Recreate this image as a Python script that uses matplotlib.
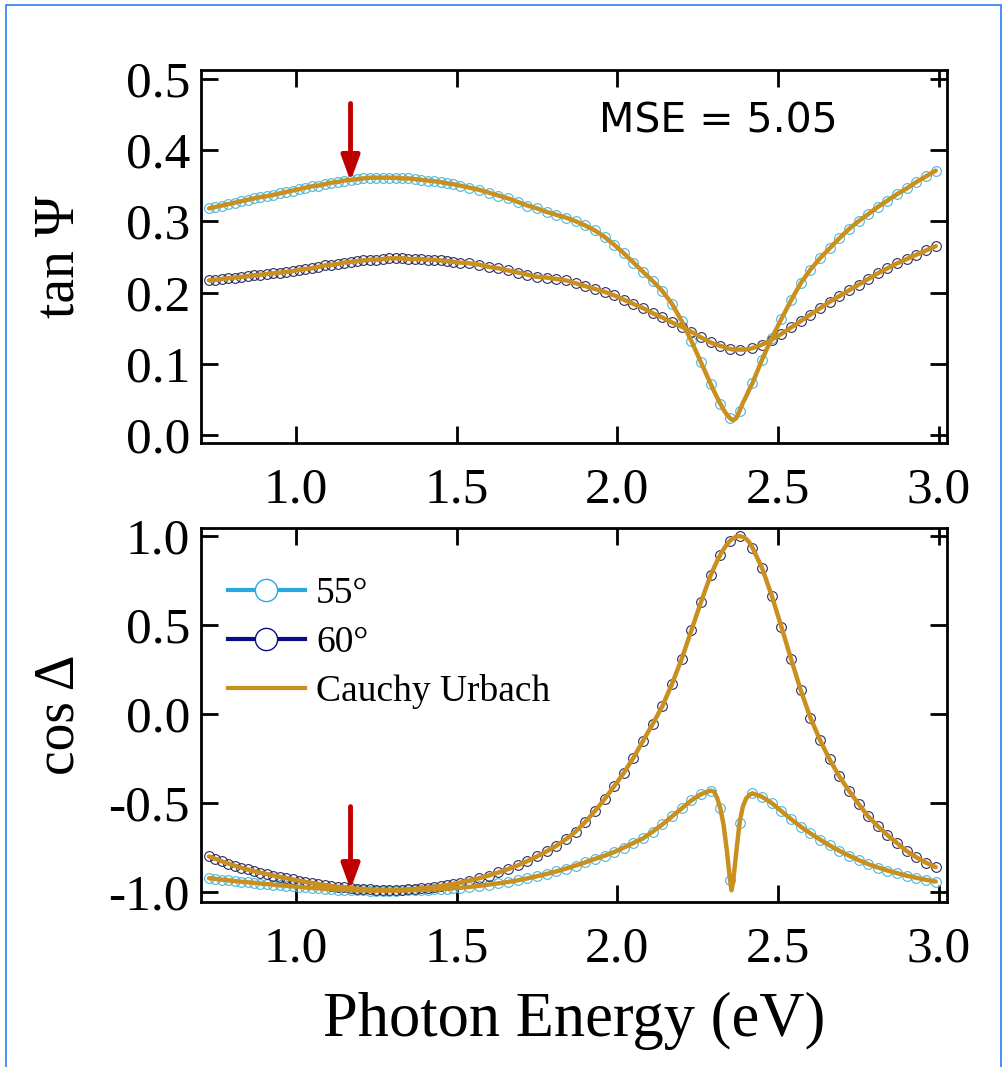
import numpy as np
import matplotlib
matplotlib.use("Agg")
import matplotlib.pyplot as plt
from matplotlib.lines import Line2D
from matplotlib.ticker import FormatStrFormatter

plt.rcParams['font.family'] = ['Liberation Serif', 'DejaVu Serif']
plt.rcParams['axes.unicode_minus'] = False

# photon energy (eV)
energy = [0.73, 0.75, 0.77, 0.79, 0.81, 0.83, 0.85, 0.87, 0.89, 0.91,
          0.93, 0.95, 0.97, 0.99, 1.01, 1.03, 1.05, 1.07, 1.09, 1.11,
          1.13, 1.15, 1.17, 1.19, 1.21, 1.23, 1.25, 1.27, 1.29, 1.31,
          1.33, 1.35, 1.37, 1.39, 1.41, 1.43, 1.45, 1.47, 1.49,
          1.51, 1.54, 1.57, 1.60, 1.63, 1.66, 1.69, 1.72, 1.75, 1.78,
          1.81, 1.84, 1.87, 1.90, 1.93, 1.96, 1.99, 2.02, 2.05, 2.08,
          2.11, 2.14, 2.17, 2.20, 2.23, 2.26, 2.29,
          2.30, 2.31, 2.32, 2.33, 2.34, 2.35, 2.355, 2.36, 2.37, 2.38,
          2.39, 2.40, 2.41,
          2.42, 2.45, 2.48, 2.51, 2.54, 2.57, 2.60, 2.63, 2.66, 2.69,
          2.72, 2.75, 2.78, 2.81, 2.84, 2.87, 2.90, 2.93, 2.96, 2.99]

tan_psi_55 = [0.318, 0.320, 0.322, 0.324, 0.326, 0.328, 0.330, 0.332, 0.334, 0.335,
              0.337, 0.339, 0.341, 0.343, 0.345, 0.347, 0.349, 0.350, 0.352, 0.354,
              0.355, 0.357, 0.358, 0.359, 0.360, 0.361, 0.361, 0.361, 0.361, 0.361,
              0.360, 0.360, 0.359, 0.358, 0.357, 0.356, 0.355, 0.353, 0.352,
              0.350, 0.347, 0.344, 0.340, 0.336, 0.332, 0.327, 0.322, 0.318, 0.313,
              0.309, 0.305, 0.300, 0.294, 0.287, 0.278, 0.267, 0.255, 0.242, 0.229,
              0.216, 0.202, 0.184, 0.160, 0.132, 0.102, 0.072,
              0.062, 0.053, 0.044, 0.036, 0.029, 0.024, 0.022, 0.021, 0.024, 0.034,
              0.045, 0.054, 0.064,
              0.073, 0.106, 0.136, 0.163, 0.189, 0.213, 0.232, 0.248, 0.262, 0.276,
              0.289, 0.300, 0.310, 0.320, 0.329, 0.338, 0.346, 0.355, 0.363, 0.371]

tan_psi_60 = [0.217, 0.218, 0.219, 0.220, 0.221, 0.222, 0.223, 0.224, 0.225, 0.226,
              0.227, 0.228, 0.229, 0.230, 0.232, 0.233, 0.234, 0.236, 0.238, 0.239,
              0.240, 0.242, 0.243, 0.244, 0.245, 0.246, 0.246, 0.247, 0.248, 0.248,
              0.248, 0.247, 0.247, 0.247, 0.246, 0.246, 0.245, 0.244, 0.243,
              0.242, 0.241, 0.239, 0.236, 0.234, 0.231, 0.228, 0.225, 0.222, 0.221,
              0.219, 0.217, 0.213, 0.209, 0.205, 0.201, 0.196, 0.190, 0.184, 0.178,
              0.171, 0.165, 0.158, 0.152, 0.145, 0.137, 0.130,
              0.128, 0.127, 0.125, 0.124, 0.122, 0.121, 0.1205, 0.120, 0.120, 0.120,
              0.120, 0.120, 0.121,
              0.122, 0.127, 0.134, 0.142, 0.151, 0.160, 0.169, 0.178, 0.187, 0.195,
              0.203, 0.211, 0.219, 0.227, 0.234, 0.241, 0.247, 0.253, 0.259, 0.265]

cos_delta_55 = [-0.922, -0.926, -0.930, -0.934, -0.938, -0.942, -0.945, -0.948, -0.952, -0.955,
                -0.958, -0.962, -0.965, -0.968, -0.971, -0.974, -0.977, -0.979, -0.982, -0.984,
                -0.986, -0.988, -0.989, -0.990, -0.991, -0.992, -0.992, -0.992, -0.992, -0.992,
                -0.991, -0.990, -0.989, -0.988, -0.987, -0.985, -0.983, -0.981, -0.978,
                -0.976, -0.971, -0.965, -0.958, -0.951, -0.943, -0.934, -0.923, -0.911, -0.898,
                -0.884, -0.868, -0.851, -0.833, -0.814, -0.796, -0.775, -0.750, -0.724, -0.698,
                -0.660, -0.620, -0.575, -0.530, -0.485, -0.450, -0.430,
                -0.435, -0.470, -0.530, -0.620, -0.760, -0.930, -0.990, -0.940, -0.770, -0.610,
                -0.520, -0.475, -0.455,
                -0.445, -0.465, -0.500, -0.545, -0.590, -0.632, -0.670, -0.705, -0.738, -0.768,
                -0.795, -0.820, -0.843, -0.862, -0.879, -0.894, -0.908, -0.920, -0.931, -0.941]

cos_delta_60 = [-0.800, -0.814, -0.827, -0.840, -0.852, -0.863, -0.873, -0.883, -0.891, -0.899,
                -0.907, -0.915, -0.922, -0.929, -0.936, -0.943, -0.949, -0.955, -0.961, -0.966,
                -0.970, -0.974, -0.978, -0.981, -0.983, -0.985, -0.986, -0.987, -0.987, -0.987,
                -0.986, -0.984, -0.982, -0.979, -0.976, -0.971, -0.966, -0.960, -0.954,
                -0.947, -0.935, -0.922, -0.907, -0.890, -0.871, -0.850, -0.826, -0.800, -0.771,
                -0.740, -0.703, -0.660, -0.606, -0.545, -0.478, -0.405, -0.330, -0.245, -0.150,
                -0.055, 0.045, 0.170, 0.310, 0.470, 0.630, 0.780,
                0.820, 0.860, 0.895, 0.925, 0.952, 0.973, 0.981, 0.988, 0.997, 1.000,
                0.995, 0.985, 0.965,
                0.935, 0.820, 0.665, 0.490, 0.310, 0.135, -0.020, -0.145, -0.255, -0.350,
                -0.430, -0.505, -0.575, -0.630, -0.680, -0.725, -0.770, -0.805, -0.835, -0.860]

# extra points only used to resolve the sharp features of the model line
fine_points = [2.30, 2.31, 2.33, 2.34, 2.355, 2.36, 2.37, 2.39, 2.40, 2.41]

labels = ["55°", "60°", "Cauchy Urbach"]
mse_text = "MSE = 5.05"
arrow_energy = 1.17

col_55 = '#2aa9e1'
col_55_marker = '#49b6d8'
col_60 = '#0c0c88'
col_60_marker = '#2a2a5c'
col_fit = '#c99020'
col_arrow = '#c00000'

marks = [i for i, e in enumerate(energy) if e not in fine_points]

fig = plt.figure(figsize=(10.07, 10.67), dpi=100)
ax1 = fig.add_axes([0.1996, 0.5848, 0.7408, 0.3496])
ax2 = fig.add_axes([0.1996, 0.1546, 0.7408, 0.3505])


def draw(ax, y55, y60):
    ax.plot(energy, y55, ls='none', marker='o', ms=7, mfc='none',
            mec=col_55_marker, mew=0.8, markevery=marks)
    ax.plot(energy, y60, ls='none', marker='o', ms=7, mfc='none',
            mec=col_60_marker, mew=0.8, markevery=marks)
    ax.plot(energy, y55, color=col_fit, lw=3.2, solid_capstyle='round')
    ax.plot(energy, y60, color=col_fit, lw=3.2, solid_capstyle='round')
    ax.set_xlim(0.705, 3.025)
    ax.set_xticks([1.0, 1.5, 2.0, 2.5, 3.0])
    ax.xaxis.set_major_formatter(FormatStrFormatter('%.1f'))
    ax.yaxis.set_major_formatter(FormatStrFormatter('%.1f'))
    ax.tick_params(direction='in', length=12, width=2, top=True, right=True,
                   labelsize=37, pad=8)
    ax.tick_params(axis='x', pad=17)
    for s in ax.spines.values():
        s.set_linewidth(2)


draw(ax1, tan_psi_55, tan_psi_60)
ax1.set_ylim(-0.011, 0.512)
ax1.set_yticks([0.0, 0.1, 0.2, 0.3, 0.4, 0.5])
ax1.set_ylabel('tan Ψ', fontsize=40)
ax1.yaxis.set_label_coords(-0.155, 0.5)
ax1.text(0.693, 0.861, mse_text, transform=ax1.transAxes, ha='center',
         va='center', fontsize=29.5, family='DejaVu Sans')
ax1.annotate('', xy=(arrow_energy, 0.356), xytext=(arrow_energy, 0.465),
             arrowprops=dict(arrowstyle='-|>,head_length=0.6,head_width=0.22',
                             color=col_arrow, lw=3.5, mutation_scale=25,
                             shrinkA=0, shrinkB=0))

draw(ax2, cos_delta_55, cos_delta_60)
ax2.set_ylim(-1.056, 1.045)
ax2.set_yticks([-1.0, -0.5, 0.0, 0.5, 1.0])
ax2.set_ylabel('cos Δ', fontsize=40)
ax2.yaxis.set_label_coords(-0.155, 0.5)
ax2.set_xlabel('Photon Energy (eV)', fontsize=45, labelpad=14)
ax2.annotate('', xy=(arrow_energy, -0.985), xytext=(arrow_energy, -0.52),
             arrowprops=dict(arrowstyle='-|>,head_length=0.6,head_width=0.22',
                             color=col_arrow, lw=3.5, mutation_scale=25,
                             shrinkA=0, shrinkB=0))

handles = [Line2D([], [], color=col_55, lw=3, marker='o', ms=16, mfc='white',
                  mec=col_55, mew=1),
           Line2D([], [], color=col_60, lw=3, marker='o', ms=16, mfc='white',
                  mec=col_60, mew=1),
           Line2D([], [], color=col_fit, lw=3)]
ax2.legend(handles, labels, loc='center left', bbox_to_anchor=(0.0, 0.693),
           frameon=False, fontsize=27, handlelength=2.05, handletextpad=0.3,
           labelspacing=0.37, borderpad=0, borderaxespad=0.72)

# thin blue frame around the panel
fig.add_artist(plt.Rectangle((6 / 1007, -0.05), 995 / 1007, 1.05 - 5 / 1067,
                             transform=fig.transFigure, fill=False,
                             edgecolor='#2a7bf0', lw=1.2))

fig.savefig('out.png', dpi=100)
